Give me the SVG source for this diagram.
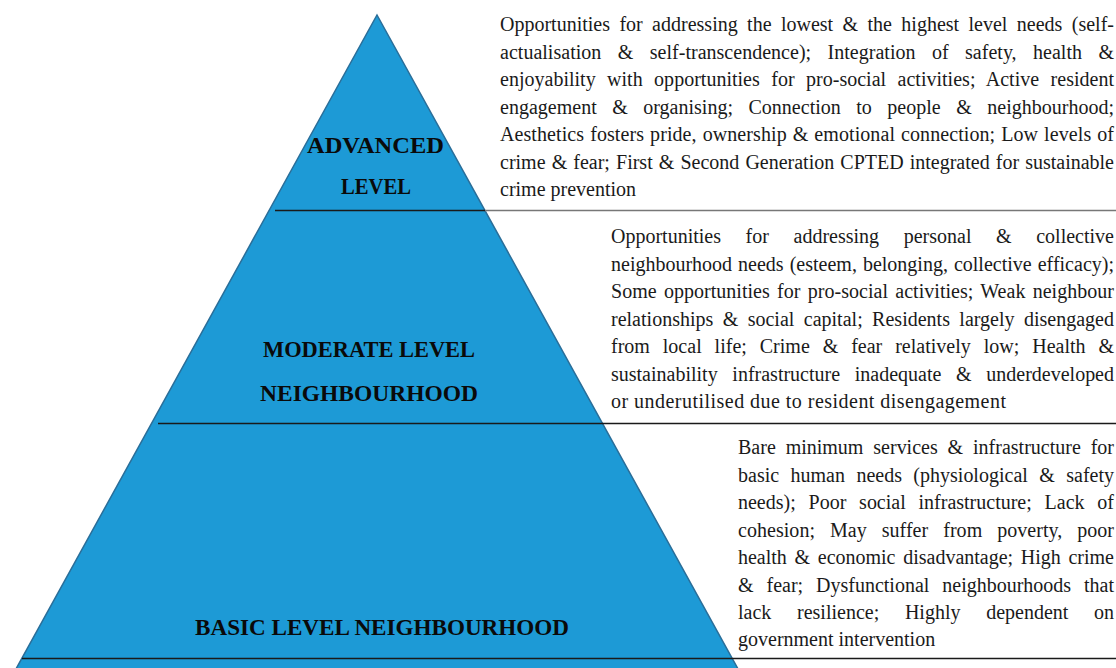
<svg xmlns="http://www.w3.org/2000/svg" width="1116" height="668" viewBox="0 0 1116 668">
<style>
.body{font-family:"Liberation Serif","Times New Roman",serif;font-size:20px;fill:#1a1a1a}
.lbl{font-family:"Liberation Serif","Times New Roman",serif;font-size:24px;font-weight:bold;fill:#0a0a0a;text-anchor:middle}
.div{stroke:#1a1a1a;stroke-width:1.5}
.divg{stroke:#777;stroke-width:1.3}
</style>
<rect width="1116" height="668" fill="#fff"/>
<g id="pyramid">
<polygon points="377,15 764,716 -10,716" fill="#1D9AD6" stroke="#2a6e99" stroke-width="1.5"/>
</g>
<g id="dividers">
<line class="div" x1="275" y1="210.5" x2="485" y2="210.5"/>
<line class="divg" x1="485" y1="210.5" x2="1116" y2="210.5"/>
<line class="div" x1="158" y1="423.5" x2="1116" y2="423.5"/>
<line class="div" x1="22" y1="658.5" x2="1116" y2="658.5"/>
</g>
<g id="advanced">
<text class="lbl" x="375.5" y="153" textLength="137" lengthAdjust="spacingAndGlyphs">ADVANCED</text>
<text class="lbl" x="376" y="194" textLength="70" lengthAdjust="spacingAndGlyphs">LEVEL</text>
<text class="body" x="500" y="31" textLength="614" lengthAdjust="spacing" word-spacing="4.4">Opportunities for addressing the lowest &amp; the highest level needs (self-</text>
<text class="body" x="500" y="58.5" textLength="614" lengthAdjust="spacing" word-spacing="11.4">actualisation &amp; self-transcendence); Integration of safety, health &amp;</text>
<text class="body" x="500" y="86" textLength="614" lengthAdjust="spacing" word-spacing="6.4">enjoyability with opportunities for pro-social activities; Active resident</text>
<text class="body" x="500" y="113.5" textLength="614" lengthAdjust="spacing" word-spacing="10.5">engagement &amp; organising; Connection to people &amp; neighbourhood;</text>
<text class="body" x="500" y="141" textLength="614" lengthAdjust="spacing" word-spacing="0.9">Aesthetics fosters pride, ownership &amp; emotional connection; Low levels of</text>
<text class="body" x="500" y="168.5" textLength="614" lengthAdjust="spacing" word-spacing="1.1">crime &amp; fear; First &amp; Second Generation CPTED integrated for sustainable</text>
<text class="body" x="500" y="196">crime prevention</text>
</g>
<g id="moderate">
<text class="lbl" x="369" y="357" textLength="212" lengthAdjust="spacingAndGlyphs">MODERATE LEVEL</text>
<text class="lbl" x="369" y="401" textLength="218" lengthAdjust="spacingAndGlyphs">NEIGHBOURHOOD</text>
<text class="body" x="611" y="243" textLength="503" lengthAdjust="spacing" word-spacing="19.6">Opportunities for addressing personal &amp; collective</text>
<text class="body" x="611" y="270.5" textLength="503" lengthAdjust="spacing" word-spacing="1">neighbourhood needs (esteem, belonging, collective efficacy);</text>
<text class="body" x="611" y="298" textLength="503" lengthAdjust="spacing" word-spacing="2.2">Some opportunities for pro-social activities; Weak neighbour</text>
<text class="body" x="611" y="325.5" textLength="503" lengthAdjust="spacing" word-spacing="4.4">relationships &amp; social capital; Residents largely disengaged</text>
<text class="body" x="611" y="353" textLength="503" lengthAdjust="spacing" word-spacing="7.9">from local life; Crime &amp; fear relatively low; Health &amp;</text>
<text class="body" x="611" y="380.5" textLength="503" lengthAdjust="spacing" word-spacing="9.7">sustainability infrastructure inadequate &amp; underdeveloped</text>
<text class="body" x="611" y="408" textLength="395" lengthAdjust="spacing">or underutilised due to resident disengagement</text>
</g>
<g id="basic">
<text class="lbl" x="382" y="635" textLength="374" lengthAdjust="spacingAndGlyphs">BASIC LEVEL NEIGHBOURHOOD</text>
<text class="body" x="738" y="454" textLength="376" lengthAdjust="spacing" word-spacing="4.9">Bare minimum services &amp; infrastructure for</text>
<text class="body" x="738" y="481.5" textLength="376" lengthAdjust="spacing" word-spacing="6.4">basic human needs (physiological &amp; safety</text>
<text class="body" x="738" y="509" textLength="376" lengthAdjust="spacing" word-spacing="7.8">needs); Poor social infrastructure; Lack of</text>
<text class="body" x="738" y="536.5" textLength="376" lengthAdjust="spacing" word-spacing="9.9">cohesion; May suffer from poverty, poor</text>
<text class="body" x="738" y="564" textLength="376" lengthAdjust="spacing" word-spacing="2.7">health &amp; economic disadvantage; High crime</text>
<text class="body" x="738" y="591.5" textLength="376" lengthAdjust="spacing" word-spacing="7.9">&amp; fear; Dysfunctional neighbourhoods that</text>
<text class="body" x="738" y="619" textLength="376" lengthAdjust="spacing" word-spacing="20.7">lack resilience; Highly dependent on</text>
<text class="body" x="738" y="646">government intervention</text>
</g>
</svg>
